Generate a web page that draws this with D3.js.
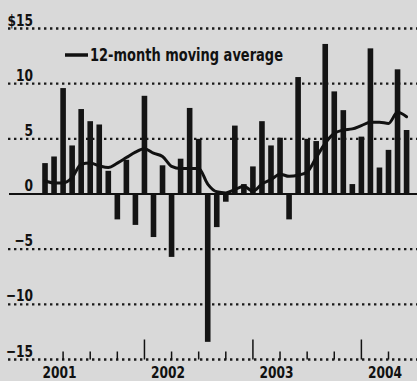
<!DOCTYPE html>
<html>
<head>
<meta charset="utf-8">
<script src="https://cdn.jsdelivr.net/npm/d3@7"></script>
<style>
  html, body { margin: 0; padding: 0; background: #d9d9d9; }
  svg { display: block; }
  text { font-family: "DejaVu Sans Condensed", "Liberation Sans Narrow", "Roboto", sans-serif; fill: #111; }
</style>
</head>
<body>
<svg id="chart" width="417" height="381"></svg>
<script>
// Monthly values, Feb 2001 – Jun 2004 (billions of dollars)
const months = [
  "2001-02","2001-03","2001-04","2001-05","2001-06","2001-07","2001-08","2001-09","2001-10","2001-11","2001-12",
  "2002-01","2002-02","2002-03","2002-04","2002-05","2002-06","2002-07","2002-08","2002-09","2002-10","2002-11","2002-12",
  "2003-01","2003-02","2003-03","2003-04","2003-05","2003-06","2003-07","2003-08","2003-09","2003-10","2003-11","2003-12",
  "2004-01","2004-02","2004-03","2004-04","2004-05","2004-06"
];
const monthly = [
  2.8, 3.4, 9.6, 4.4, 7.7, 6.6, 6.3, 2.1, -2.3, 3.1, -2.8,
  8.9, -3.9, 2.6, -5.7, 3.2, 7.8, 5.0, -13.4, -3.0, -0.7, 6.2, 0.9,
  2.5, 6.6, 4.4, 5.1, -2.3, 10.6, 5.0, 4.8, 13.6, 9.3, 7.6, 0.9,
  5.2, 13.2, 2.4, 4.0, 11.3, 5.8
];
const movingAvg = [
  1.2, 1.0, 1.0, 1.5, 2.7, 2.8, 2.55, 2.4, 2.8, 3.3, 3.8,
  4.1, 3.7, 3.4, 2.5, 2.3, 2.3, 2.3, 0.9, 0.2, 0.1, 0.4, 0.7,
  0.25, 0.9, 1.3, 1.8, 1.6, 1.7, 2.0, 3.3, 4.6, 5.5, 5.8, 5.9,
  6.2, 6.5, 6.5, 6.4, 7.4, 7.0
];
const yTicks = [15, 10, 5, 0, -5, -10, -15];
const yTickLabels = ["$15", "10", "5", "0", "\u22125", "\u221210", "\u221215"];
const years = ["2001", "2002", "2003", "2004"];
const legendLabel = "12-month moving average";

const svg = d3.select("#chart");
const W = 417;
const squeeze = 0.85; // narrow the lettering horizontally

const x = d3.scaleBand()
  .domain(months)
  .range([40.5, 411.1])
  .paddingInner(0.38)
  .paddingOuter(0.19);
const y = d3.scaleLinear().domain([-15, 15]).range([359.5, 28.5]);
const cx = m => x(m) + x.bandwidth() / 2;

function label(g, tx, ty, str, size, anchor) {
  return g.append("text")
    .attr("transform", `translate(${tx},${ty}) scale(${squeeze},1)`)
    .attr("text-anchor", anchor)
    .attr("font-size", size)
    .attr("font-weight", "bold")
    .text(str);
}

// dotted gridlines (all but zero)
svg.append("g")
  .selectAll("line")
  .data(yTicks.filter(v => v !== 0))
  .join("line")
  .attr("x1", 8).attr("x2", W)
  .attr("y1", d => y(d)).attr("y2", d => y(d))
  .attr("stroke", "#1a1a1a")
  .attr("stroke-width", 2.4)
  .attr("stroke-dasharray", "2.4,3.6");

// y labels sit just above their gridline
const gY = svg.append("g");
yTicks.forEach((v, i) => label(gY, 33, y(v) - 3, yTickLabels[i], 16, "end"));

// monthly bars
svg.append("g")
  .selectAll("rect")
  .data(monthly)
  .join("rect")
  .attr("x", (d, i) => x(months[i]))
  .attr("width", x.bandwidth())
  .attr("y", d => y(Math.max(0, d)))
  .attr("height", d => Math.abs(y(d) - y(0)))
  .attr("fill", "#141414");

// zero line
svg.append("line")
  .attr("x1", 9).attr("x2", W)
  .attr("y1", y(0)).attr("y2", y(0))
  .attr("stroke", "#111")
  .attr("stroke-width", 2);

// moving average line
const line = d3.line()
  .x((d, i) => cx(months[i]))
  .y(d => y(d))
  .curve(d3.curveMonotoneX);
svg.append("path")
  .datum(movingAvg)
  .attr("d", line)
  .attr("fill", "none")
  .attr("stroke", "#111")
  .attr("stroke-width", 3)
  .attr("stroke-linejoin", "round")
  .attr("stroke-linecap", "round");

// quarterly ticks, taller at January
const quarters = months.filter(m => ["01", "04", "07", "10"].includes(m.slice(5)));
const axis = d3.axisTop(x).tickValues(quarters).tickSize(8).tickFormat("");
const gAxis = svg.append("g")
  .attr("transform", `translate(0,${y(-15)})`)
  .call(axis);
gAxis.select(".domain").remove();
gAxis.selectAll(".tick line")
  .attr("stroke", "#111")
  .attr("stroke-width", 1.5)
  .attr("y2", d => d.slice(5) === "01" ? -20 : -8);

// year labels
const step = x.step();
const gX = svg.append("g");
years.forEach(yr => {
  const jan = months.includes(yr + "-01") ? cx(yr + "-01") : cx(yr + "-02") - step;
  label(gX, jan + 2.6 * step, 378, yr, 16, "middle");
});

// legend
svg.append("line")
  .attr("x1", 65).attr("x2", 88)
  .attr("y1", 55).attr("y2", 55)
  .attr("stroke", "#111")
  .attr("stroke-width", 3.5);
label(svg, 90, 61, legendLabel, 17, "start");
</script>
</body>
</html>
